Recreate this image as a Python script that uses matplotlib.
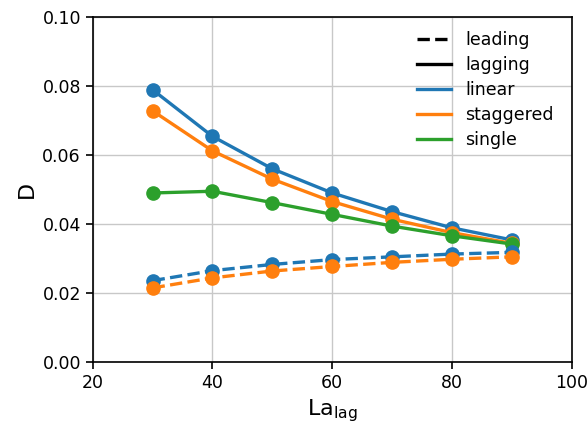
import matplotlib
matplotlib.use("Agg")
import matplotlib.pyplot as plt
from matplotlib.lines import Line2D

la_lag = [30, 40, 50, 60, 70, 80, 90]
linear_lagging = [0.0789, 0.0654, 0.0560, 0.0490, 0.0436, 0.0389, 0.0354]
staggered_lagging = [0.0728, 0.0612, 0.0530, 0.0465, 0.0414, 0.0375, 0.0344]
single_lagging = [0.0490, 0.0495, 0.0462, 0.0428, 0.0394, 0.0366, 0.0342]
linear_leading = [0.0236, 0.0265, 0.0283, 0.0297, 0.0305, 0.0313, 0.0318]
staggered_leading = [0.0215, 0.0244, 0.0264, 0.0277, 0.0289, 0.0298, 0.0305]

blue, orange, green = "#1f77b4", "#ff7f0e", "#2ca02c"

fig = plt.figure(figsize=(5.87, 4.24), dpi=100)
ax = fig.add_axes([0.158, 0.146, 0.816, 0.814])

kw = dict(marker="o", markersize=9.5, linewidth=2.4)
ax.plot(la_lag, linear_lagging, color=blue, linestyle="-", **kw)
ax.plot(la_lag, staggered_lagging, color=orange, linestyle="-", **kw)
ax.plot(la_lag, single_lagging, color=green, linestyle="-", **kw)
ax.plot(la_lag, linear_leading, color=blue, linestyle="--", **kw)
ax.plot(la_lag, staggered_leading, color=orange, linestyle="--", **kw)

ax.set_xlim(20, 100)
ax.set_ylim(0, 0.10)
ax.set_xticks([20, 40, 60, 80, 100])
ax.set_yticks([0.0, 0.02, 0.04, 0.06, 0.08, 0.10])
ax.set_yticklabels(["0.00", "0.02", "0.04", "0.06", "0.08", "0.10"])
ax.tick_params(labelsize=12.5, width=1.2, length=5)
for s in ax.spines.values():
    s.set_linewidth(1.2)
ax.grid(True, color="#c8c8c8", linewidth=1.0)
ax.set_axisbelow(True)
ax.set_xlabel(r"La$_{\mathrm{lag}}$", fontsize=16)
ax.set_ylabel("D", fontsize=16)

handles = [
    Line2D([], [], color="black", linestyle="--", linewidth=2.4),
    Line2D([], [], color="black", linestyle="-", linewidth=2.4),
    Line2D([], [], color=blue, linewidth=2.4),
    Line2D([], [], color=orange, linewidth=2.4),
    Line2D([], [], color=green, linewidth=2.4),
]
labels = ["leading", "lagging", "linear", "staggered", "single"]
ax.legend(handles, labels, loc="upper right", frameon=False, fontsize=12.5,
          handlelength=2.0, labelspacing=0.4, bbox_to_anchor=(0.995, 1.005))

fig.savefig("out.png", dpi=100)
